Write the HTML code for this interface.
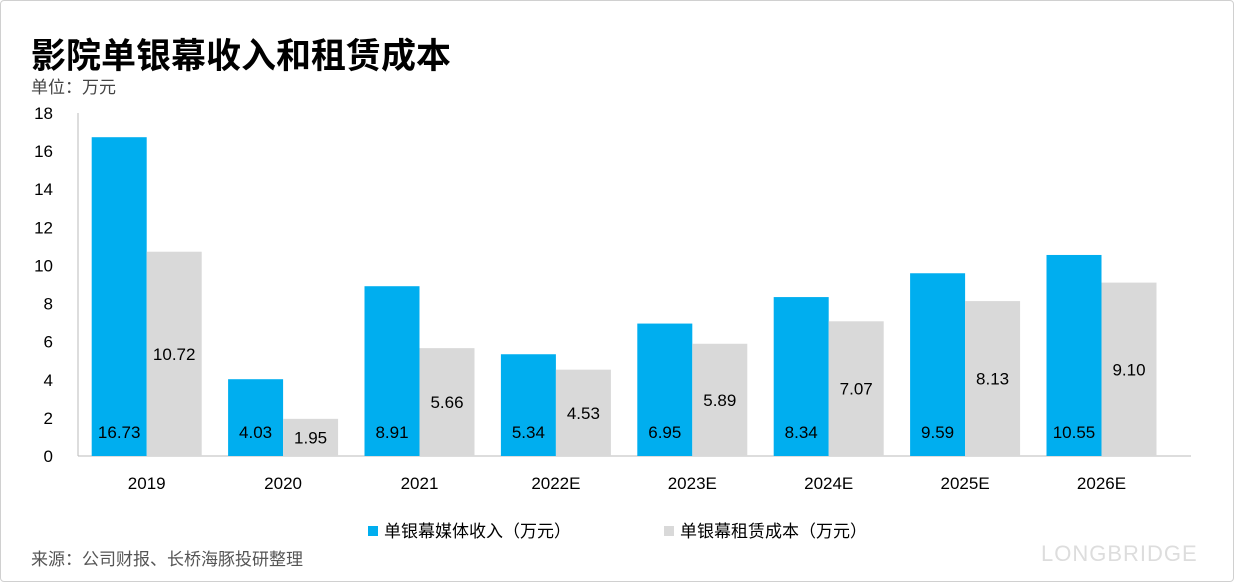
<!DOCTYPE html>
<html><head><meta charset="utf-8"><style>
body{margin:0;background:#fff;}
#wrap{position:relative;width:1232px;height:580px;border:1px solid #d0d0d0;border-radius:4px;overflow:hidden;font-family:"Liberation Sans","Noto Sans CJK SC",sans-serif;}
.t{position:absolute;white-space:nowrap;}
</style></head><body>
<div id="wrap">
<div class="t" style="left:30px;top:27px;font-size:35px;font-weight:bold;color:#000;">影院单银幕收入和租赁成本</div>
<div class="t" style="left:30px;top:72px;font-size:17px;color:#444;">单位：万元</div>
<div class="t" style="left:30px;top:544px;font-size:17px;color:#555;">来源：公司财报、长桥海豚投研整理</div>
<div class="t" style="left:1040px;top:540px;font-size:22px;color:#ddd;letter-spacing:1px;">LONGBRIDGE</div>
<svg id="chart" width="1232" height="580" style="position:absolute;left:0;top:0"></svg>
</div>
<script>
const categories=["2019","2020","2021","2022E","2023E","2024E","2025E","2026E"];
const revenue=[16.73,4.03,8.91,5.34,6.95,8.34,9.59,10.55];
const rent=[10.72,1.95,5.66,4.53,5.89,7.07,8.13,9.10];
const yTicks=[0,2,4,6,8,10,12,14,16,18];
const svg=document.getElementById('chart');
const NS='http://www.w3.org/2000/svg';
const y0=455,yTop=112,yMax=18;
const y=v=>y0-(v/yMax)*(y0-yTop);
const bandStart=77.5,band=136.4,bw=55;
const x=i=>bandStart+band*i+band/2;
function mk(tag,attrs,text){const e=document.createElementNS(NS,tag);for(const k in attrs)e.setAttribute(k,attrs[k]);if(text!==undefined)e.textContent=text;svg.appendChild(e);return e;}
const font='Liberation Sans, Noto Sans CJK SC, sans-serif';
let ax=mk('line',{x1:77,x2:77,y1:yTop,y2:y0,stroke:'#bbb'});

let bx=mk('line',{x1:77,x2:1190,y1:y0,y2:y0,stroke:'#bbb'});

yTicks.forEach(t=>{
 const e=mk('text',{x:52,y:y(t)+6,'text-anchor':'end','font-size':17,fill:'#000','font-family':font},t);
 
});
categories.forEach((c,i)=>{
 const cx=x(i);
 const r1=mk('rect',{x:cx-bw,y:y(revenue[i]),width:bw,height:y0-y(revenue[i]),fill:'#00aeef'});
 
 const r2=mk('rect',{x:cx,y:y(rent[i]),width:bw,height:y0-y(rent[i]),fill:'#d9d9d9'});
 
 const l1=mk('text',{x:cx-bw/2,y:437,'text-anchor':'middle','font-size':17,fill:'#000','font-family':font},revenue[i].toFixed(2));
 
 const l2=mk('text',{x:cx+bw/2,y:(y(rent[i])+y0)/2+6,'text-anchor':'middle','font-size':17,fill:'#000','font-family':font},rent[i].toFixed(2));
 
 const xl=mk('text',{x:cx,y:488,'text-anchor':'middle','font-size':17,fill:'#000','font-family':font},c);
 
});
let s1=mk('rect',{x:367,y:525,width:10,height:10,fill:'#00aeef'});

let t1=mk('text',{x:383,y:536,'font-size':17,fill:'#000','font-family':font},'单银幕媒体收入（万元）');

let s2=mk('rect',{x:663,y:525,width:10,height:10,fill:'#d9d9d9'});

let t2=mk('text',{x:679,y:536,'font-size':17,fill:'#000','font-family':font},'单银幕租赁成本（万元）');

</script>
</body></html>
